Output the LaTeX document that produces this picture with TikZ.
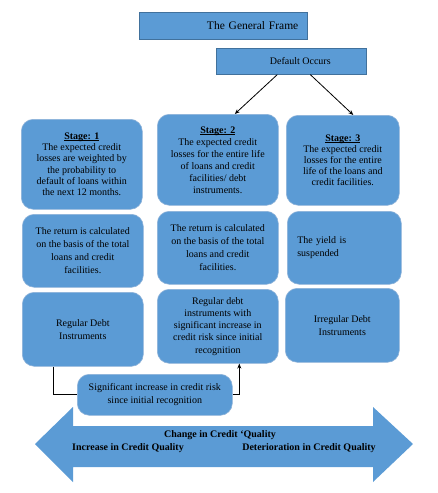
\documentclass[tikz,border=0pt]{standalone}
\usepackage{fontspec}
\setmainfont{Liberation Serif}
\usetikzlibrary{arrows.meta}
\definecolor{boxblue}{HTML}{5B9BD5}
\definecolor{boxedge}{HTML}{41719C}
\definecolor{roundedge}{HTML}{8FB3D9}
\newcommand{\stageline}[2]{\textbf{\setbox0\hbox{#1}\rlap{\rule[-1.2pt]{\wd0}{0.5pt}}\box0}\\[#2]}
\begin{document}
\begin{tikzpicture}[x=1pt,y=-1pt,
  sqbox/.style={draw=boxedge, line width=0.6pt, fill=boxblue, inner sep=0pt, anchor=north west},
  rbox/.style={draw=roundedge, line width=0.6pt, fill=boxblue, rounded corners=12pt, inner sep=0pt, anchor=north west, align=center, font=\fontsize{10}{11.2}\selectfont},
  conn/.style={draw=black, line width=0.8pt},
  arr/.style={conn, -{Stealth[length=5pt,width=4pt]}},
  lbl/.style={font=\bfseries\fontsize{10}{12}\selectfont, inner sep=0pt}
]
\useasboundingbox (0,0) rectangle (437,493);

% top boxes
\node[sqbox, minimum height=27pt, text width=150pt, inner xsep=9pt, align=right,
      font=\fontsize{11.5}{13}\selectfont] (frame) at (139,12) {The General Frame};
\node[sqbox, minimum width=150pt, minimum height=26pt,
      font=\fontsize{10}{12}\selectfont] (def) at (216,48) {\hspace{18pt}Default Occurs};

% row 1
\node[rbox, minimum width=121pt, minimum height=90pt] (s1) at (21,119)
  {\stageline{Stage: 1}{0pt}The expected credit\\losses are weighted by\\the probability to\\default of loans within\\the next 12 months.};
\node[rbox, minimum width=121pt, minimum height=91pt, font=\fontsize{10}{12}\selectfont] (s2) at (157,114)
  {\stageline{Stage: 2}{0pt}The expected credit\\losses for the entire life\\of loans and credit\\facilities/ debt\\instruments.};
\node[rbox, minimum width=113pt, minimum height=90pt] (s3) at (286,115)
  {\stageline{Stage: 3}{0pt}The expected credit\\losses for the entire\\life of the loans and\\credit facilities.};

% row 2
\node[rbox, minimum width=121pt, minimum height=73pt, font=\fontsize{10}{13}\selectfont] (r1) at (22,214)
  {The return is calculated\\on the basis of the total\\loans and credit\\facilities.};
\node[rbox, minimum width=121pt, minimum height=73pt, font=\fontsize{10}{13}\selectfont] (r2) at (157,211)
  {The return is calculated\\on the basis of the total\\loans and credit\\facilities.};
\node[rbox, minimum height=73pt, text width=94pt, inner xsep=10pt, align=left, font=\fontsize{10}{13}\selectfont] (r3) at (287,211)
  {The yield is\\suspended};

% row 3
\node[rbox, minimum width=121pt, minimum height=74pt, font=\fontsize{10}{13}\selectfont] (b1) at (22,292)
  {Regular Debt\\Instruments};
\node[rbox, minimum width=121pt, minimum height=74pt, font=\fontsize{10}{12.2}\selectfont] (b2) at (157,289)
  {Regular debt\\instruments with\\significant increase in\\credit risk since initial\\recognition};
\node[rbox, minimum width=114pt, minimum height=74pt, font=\fontsize{10}{13}\selectfont] (b3) at (285,288)
  {Irregular Debt\\Instruments};

% significant increase box
\node[rbox, minimum width=155pt, minimum height=41pt, font=\fontsize{10}{12.5}\selectfont] (sig) at (77,374)
  {Significant increase in credit risk\\since initial recognition};

% connectors
\draw[arr] ([xshift=-14pt]def.south) -- ([xshift=17pt]s2.north);
\draw[arr] ([xshift=19pt]def.south) -- ([xshift=10.5pt]s3.north);
\draw[conn] ([xshift=-29.5pt]b1.south) |- (sig.west);
\draw[arr] (sig.east) -| ([xshift=21.5pt]b2.south);

% big double arrow
\fill[boxblue] (35,444) -- (73,407) -- (73,426) -- (373,426) -- (373,407) -- (413,444)
  -- (373,482) -- (373,467) -- (73,467) -- (73,482) -- cycle;
\node[lbl] (chg) at (220,435) {Change in Credit `Quality};
\node[lbl] (inc) at (128,448) {Increase in Credit Quality};
\node[lbl] (det) at (309,448) {Deterioration in Credit Quality};
\end{tikzpicture}
\end{document}
